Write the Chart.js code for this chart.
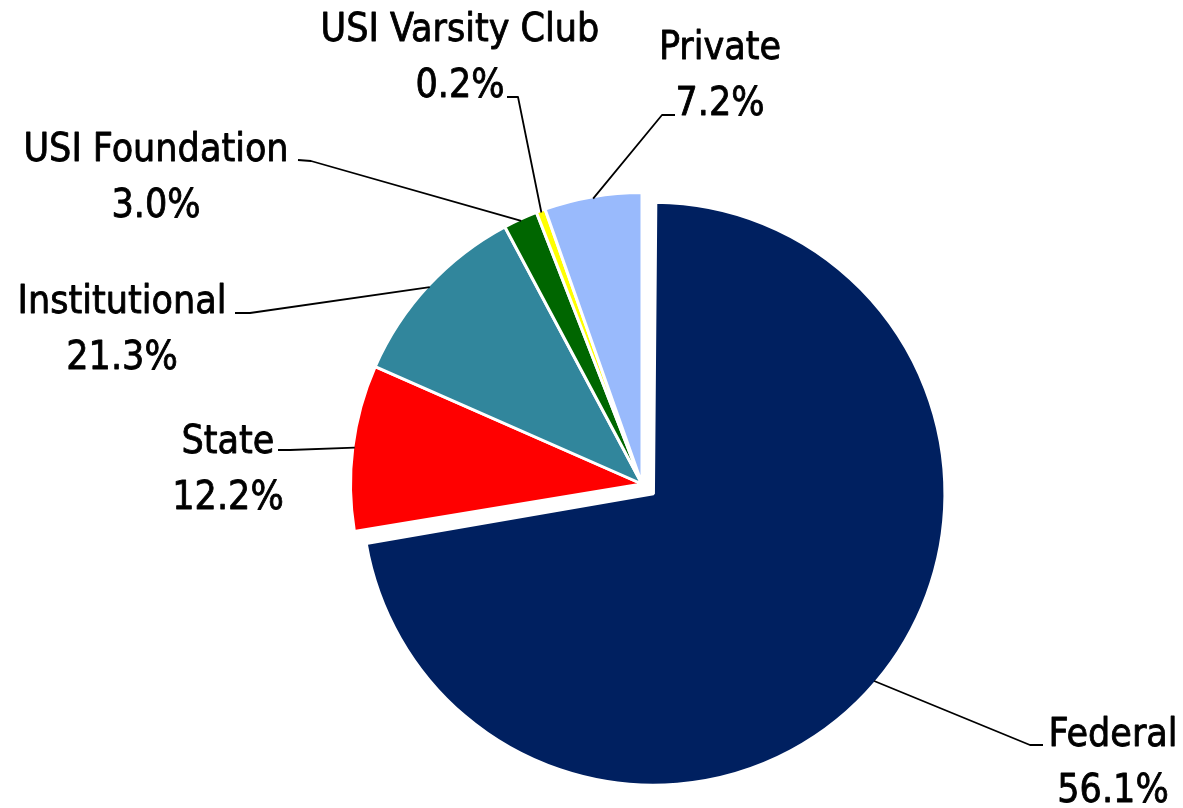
<!DOCTYPE html>
<html>
<head>
<meta charset="utf-8">
<script src="https://cdn.jsdelivr.net/npm/chart.js@4.4.0/dist/chart.umd.min.js"></script>
<style>
html,body{margin:0;padding:0;background:#ffffff;}
#wrap{width:1183px;height:808px;position:relative;}
</style>
</head>
<body>
<div id="wrap"><canvas id="c"></canvas></div>
<script>
// ---- data ----
const categories = ['Federal', 'State', 'Institutional', 'USI Foundation', 'USI Varsity Club', 'Private'];
const sliceValues = [72.4, 9.2, 10.6, 1.9, 0.5, 5.4];
const percentLabels = ['56.1%', '12.2%', '21.3%', '3.0%', '0.2%', '7.2%'];

// ---- styling / layout (kept apart from data) ----
const sliceColors = ['#002060', '#FF0000', '#31869C', '#006600', '#FFFF00', '#99BAFC'];
const sliceOffsets = [60, 0, 0, 0, 0, 0];
const labelLayout = [
  {x: 1113, y: 746, anchor: [1043, 745], elbow: [1030, 745]},
  {x: 228,  y: 453, anchor: [278, 450],  elbow: [290, 450]},
  {x: 122,  y: 313, anchor: [235, 313],  elbow: [250, 313]},
  {x: 156,  y: 161, anchor: [298, 160],  elbow: [311, 161]},
  {x: 460,  y: 41,  anchor: [507, 97],   elbow: [518, 97]},
  {x: 720,  y: 59,  anchor: [675, 115],  elbow: [662, 115]}
];
const lineGap = 56;
const labelFont = '39px "DejaVu Sans Condensed", "DejaVu Sans", sans-serif';

const leaderPlugin = {
  id: 'leaders',
  afterDatasetsUpdate(chart) {
    const meta = chart.getDatasetMeta(0);
    meta.data.forEach(arc => {
      const o = (arc.options && arc.options.offset) || 0;
      if (o) {
        const c = arc.endAngle - arc.startAngle;
        const fix = 1 - Math.sin(Math.min(Math.PI, c));
        arc.outerRadius -= (o / 4) * fix;
      }
    });
  },
  afterDraw(chart) {
    const ctx = chart.ctx;
    const meta = chart.getDatasetMeta(0);
    ctx.save();
    ctx.strokeStyle = '#000000';
    ctx.lineWidth = 1.8;
    ctx.lineJoin = 'round';
    meta.data.forEach((arc, i) => {
      const p = arc.getProps(['x', 'y', 'startAngle', 'endAngle', 'outerRadius'], true);
      const mid = (p.startAngle + p.endAngle) / 2;
      const off = ((arc.options && arc.options.offset) || 0) / 4;
      const c = p.endAngle - p.startAngle;
      const fix = 1 - Math.sin(Math.min(Math.PI, c));
      const R = p.outerRadius + off * fix;
      const ex = p.x + Math.cos(mid) * (off + R - 2);
      const ey = p.y + Math.sin(mid) * (off + R - 2);
      const L = labelLayout[i];
      ctx.beginPath();
      ctx.moveTo(ex, ey);
      ctx.lineTo(L.elbow[0], L.elbow[1]);
      ctx.lineTo(L.anchor[0], L.anchor[1]);
      ctx.stroke();
    });
    ctx.fillStyle = '#000000';
    ctx.strokeStyle = '#000000';
    ctx.lineWidth = 0.8;
    ctx.font = labelFont;
    ctx.textAlign = 'center';
    ctx.textBaseline = 'alphabetic';
    categories.forEach((name, i) => {
      const L = labelLayout[i];
      ctx.fillText(name, L.x, L.y);
      ctx.strokeText(name, L.x, L.y);
      ctx.fillText(percentLabels[i], L.x, L.y + lineGap);
      ctx.strokeText(percentLabels[i], L.x, L.y + lineGap);
    });
    ctx.restore();
  }
};

new Chart(document.getElementById('c'), {
  type: 'pie',
  data: {
    labels: categories,
    datasets: [{
      data: sliceValues,
      backgroundColor: sliceColors,
      borderColor: '#ffffff',
      borderWidth: 3,
      offset: sliceOffsets,
      hoverOffset: 0,
      radius: 291.5
    }]
  },
  options: {
    responsive: true,
    maintainAspectRatio: false,
    animation: false,
    events: [],
    rotation: 0,
    layout: {padding: {left: 101, right: 0, top: 160, bottom: 0}},
    plugins: {
      legend: {display: false},
      tooltip: {enabled: false}
    }
  },
  plugins: [leaderPlugin]
});
</script>
</body>
</html>
